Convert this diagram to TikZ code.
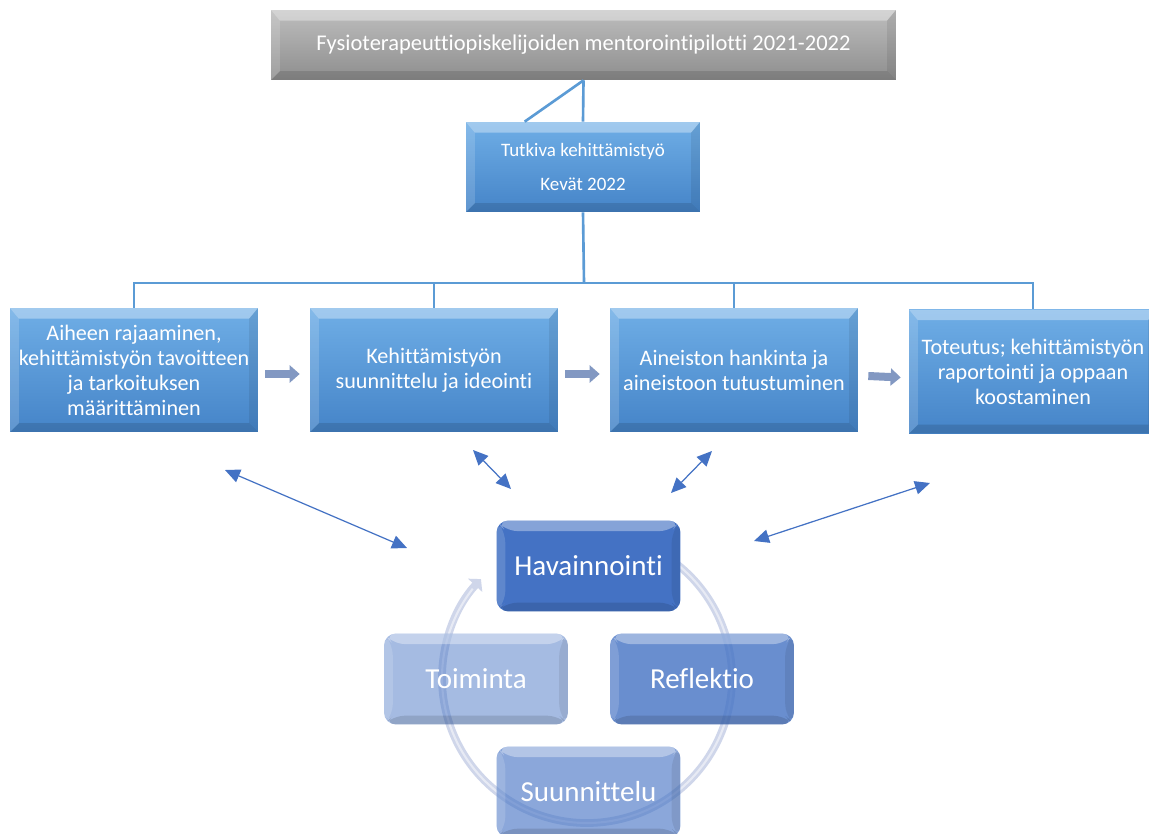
\documentclass[tikz,border=0pt]{standalone}
\usepackage{fontspec}
\setmainfont[Ligatures=NoCommon]{Carlito}
\usetikzlibrary{arrows.meta,calc}

\definecolor{linkblue}{HTML}{5B9BD5}
\definecolor{boxtop}{HTML}{6FAEE6}
\definecolor{boxbot}{HTML}{4584C8}
\definecolor{graytop}{HTML}{BDBDBD}
\definecolor{graybot}{HTML}{8E8E8E}
\definecolor{flowgray}{HTML}{8298C2}
\definecolor{twoway}{HTML}{4472C4}
\definecolor{cyclebase}{HTML}{4472C4}
\definecolor{ringcol}{HTML}{CFD6EA}

\tikzset{
  bevel/.style={
    path picture={
      \fill[white,opacity=.35]
        (path picture bounding box.north west) -- (path picture bounding box.north east)
        -- ([shift={(-5pt,-6pt)}]path picture bounding box.north east)
        -- ([shift={(5pt,-6pt)}]path picture bounding box.north west) -- cycle;
      \fill[white,opacity=.15]
        (path picture bounding box.north west) -- ([shift={(5pt,-6pt)}]path picture bounding box.north west)
        -- ([shift={(5pt,5pt)}]path picture bounding box.south west)
        -- (path picture bounding box.south west) -- cycle;
      \fill[black,opacity=.08]
        (path picture bounding box.north east) -- (path picture bounding box.south east)
        -- ([shift={(-5pt,5pt)}]path picture bounding box.south east)
        -- ([shift={(-5pt,-6pt)}]path picture bounding box.north east) -- cycle;
      \fill[black,opacity=.12]
        (path picture bounding box.south west) -- (path picture bounding box.south east)
        -- ([shift={(-5pt,5pt)}]path picture bounding box.south east)
        -- ([shift={(5pt,5pt)}]path picture bounding box.south west) -- cycle;
    }},
  stagebox/.style={bevel, top color=boxtop, bottom color=boxbot, text=white,
    align=center, inner sep=1pt, minimum width=4.96cm, minimum height=2.48cm,
    font=\fontsize{12.6pt}{14.2pt}\selectfont},
  titlebox/.style={bevel, top color=graytop, bottom color=graybot, text=white,
    align=center, minimum width=12.5cm, minimum height=1.4cm,
    font=\fontsize{12.8pt}{15pt}\selectfont},
  phasebox/.style={bevel, top color=boxtop, bottom color=boxbot, text=white,
    align=center, minimum width=4.68cm, minimum height=1.8cm,
    font=\fontsize{10.8pt}{18.8pt}\selectfont},
  conn/.style={draw=linkblue, line width=1.5pt},
  flow/.style={draw=flowgray, line width=0.16cm,
    -{Triangle[length=0.2cm,width=0.34cm]}},
  twoarrow/.style={draw=twoway, line width=0.7pt,
    {Triangle[length=0.3cm,width=0.27cm]}-{Triangle[length=0.3cm,width=0.27cm]}},
  cyclebox/.style={bevel, rounded corners=0.24cm, fill=cyclebase, text=white,
    minimum width=3.68cm, minimum height=1.82cm,
    font=\fontsize{16.5pt}{19pt}\selectfont},
}

\begin{document}
\begin{tikzpicture}[x=0.02cm,y=-0.02cm]
\clip (0,0) rectangle (1149,834);
\fill[white] (0,0) rectangle (1149,834);

% organisation part
\node[titlebox] (title) at (583.5,45) {Fysioterapeuttiopiskelijoiden mentorointipilotti 2021-2022};
\node[phasebox] (phase) at (583,167) {Tutkiva kehittämistyö\\Kevät 2022};

\node[stagebox] (s1) at (134,370) {Aiheen rajaaminen,\\kehittämistyön tavoitteen\\ja tarkoituksen\\määrittäminen};
\node[stagebox] (s2) at (434,370) {Kehittämistyön\\suunnittelu ja ideointi};
\node[stagebox] (s3) at (734,370) {Aineiston hankinta ja\\aineistoon tutustuminen};
\node[stagebox] (s4) at (1033,371.5) {Toteutus; kehittämistyön\\raportointi ja oppaan\\koostaminen};

\coordinate (bus) at (584,283);
\draw[conn] (title.south) -- (phase.north);
\draw[conn] (title.south) -- ([xshift=1.18cm]phase.north west);
\draw[conn] (phase.south) -- (bus);
\draw[conn] (s1.north) -- (s1.north |- bus) -- (s4.north |- bus) -- (s4.north);
\draw[conn] (s2.north) -- (s2.north |- bus);
\draw[conn] (s3.north) -- (s3.north |- bus);

% flow arrows between the stages
\draw[flow] ([shift={(0.14cm,-0.08cm)}]s1.east) -- ([shift={(-0.2cm,-0.08cm)}]s2.west);
\draw[flow] ([shift={(0.14cm,-0.08cm)}]s2.east) -- ([shift={(-0.2cm,-0.08cm)}]s3.west);
\draw[flow] ([shift={(0.2cm,-0.12cm)}]s3.east) -- ([shift={(-0.16cm,-0.12cm)}]s4.west);

% two-way links to the cycle
\coordinate (d1a) at (225,470); \coordinate (d1b) at (407,548);
\coordinate (d2a) at (473,450); \coordinate (d2b) at (511,489);
\coordinate (d3a) at (712,451); \coordinate (d3b) at (671,493);
\coordinate (d4a) at (930,483); \coordinate (d4b) at (754,541);
\draw[twoarrow] (d1a) -- (d1b);
\draw[twoarrow] (d2a) -- (d2b);
\draw[twoarrow] (d3a) -- (d3b);
\draw[twoarrow] (d4a) -- (d4b);

% cycle ring
\coordinate (hub) at (587,678);
\draw[ringcol, line width=4.4pt, -{Triangle[length=0.17cm,width=0.38cm]}]
  ([shift={(-60:145)}]hub) arc[start angle=-60, end angle=223, radius=145];
\draw[white, opacity=.5, line width=1.2pt]
  ([shift={(-55:145)}]hub) arc[start angle=-55, end angle=218, radius=145];

% cycle phases
\node[cyclebox] (hav) at (588.5,566) {Havainnointi};
\node[cyclebox, fill opacity=.48, text opacity=1] (toim) at (476,679) {Toiminta};
\node[cyclebox, fill opacity=.8, text opacity=1] (refl) at (702,679) {Reflektio};
\node[cyclebox, fill opacity=.62, text opacity=1] (suun) at (588.5,792) {Suunnittelu};
\end{tikzpicture}
\end{document}
